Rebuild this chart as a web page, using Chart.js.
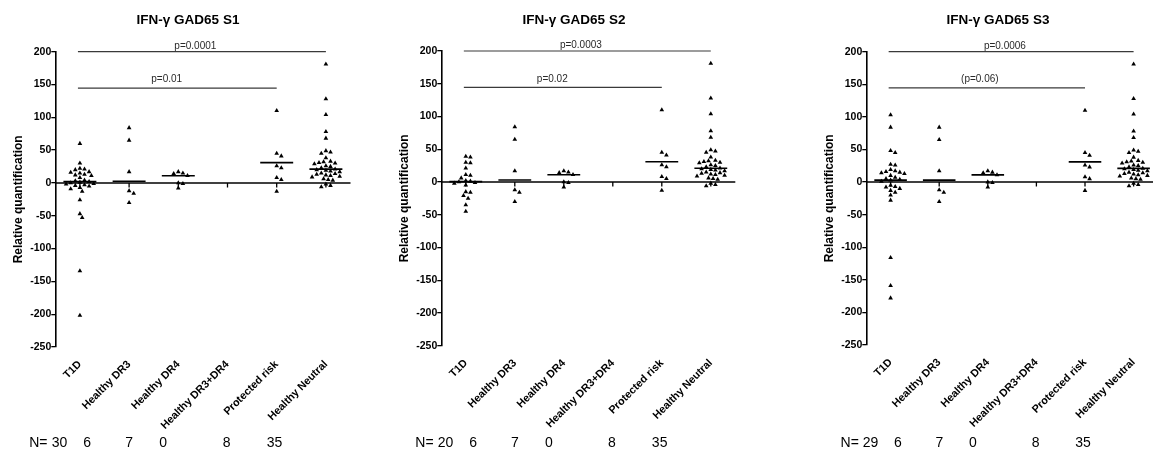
<!DOCTYPE html>
<html>
<head>
<meta charset="utf-8">
<script src="https://cdn.jsdelivr.net/npm/chart.js@4.4.1/dist/chart.umd.min.js"></script>
<style>
  html, body { margin: 0; padding: 0; background: #fff; }
  #wrap { position: relative; width: 1153px; height: 453px; overflow: hidden; background: #fff; }
  #wrap canvas { position: absolute; top: 0; }
</style>
</head>
<body>
<div id="wrap">
  <canvas id="s1"></canvas>
  <canvas id="s2"></canvas>
  <canvas id="s3"></canvas>
</div>
<script>
// ---- data ----
const categories = ['T1D', 'Healthy DR3', 'Healthy DR4', 'Healthy DR3+DR4', 'Protected risk', 'Healthy Neutral'];

const t1dS1 = [60, 30, 22, 21, 20, 17, 16, 15, 13, 12, 11, 8, 4, 3, 2, 1, 0, -1, -2, -3, -4, -5, -7, -9, -13, -26, -47, -53, -134, -202];
const t1dS2 = [39, 38, 30, 29, 21, 11, 10, 6, 2, 1, 0, -1, -2, -5, -15, -16, -21, -25, -35, -45];
const t1dS3 = [103, 84, 48, 45, 27, 26, 19, 17, 16, 15, 14, 13, 10, 7, 5, 4, 3, 1, -5, -7, -8, -10, -13, -16, -20, -28, -116, -159, -178];

const healthyDR3 = [84, 65, 17, -12, -16, -30];
const healthyDR4 = [17, 15, 14, 11, 0, -1, -8];
const healthyDR3DR4 = [];
const protectedRisk = [110, 45, 41, 26, 23, 8, 5, -13];
const healthyNeutral = [181, 128, 104, 78, 68, 49, 47, 45, 38, 33, 32, 31, 30, 29, 26, 25, 23, 21, 20, 19, 18, 17, 15, 14, 13, 12, 11, 10, 9, 6, 5, 4, -2, -4, -6];

// group centre lines
const centreS1 = [2, 2.5, 11, null, 31, 21];
const centreS2 = [0.5, 3, 11, null, 31, 21];
const centreS3 = [3, 3, 11, null, 31, 21];

const countsS1 = [30, 6, 7, 0, 8, 35];
const countsS2 = [20, 6, 7, 0, 8, 35];
const countsS3 = [29, 6, 7, 0, 8, 35];

const pLabelsS1 = ['p=0.0001', 'p=0.01'];
const pLabelsS2 = ['p=0.0003', 'p=0.02'];
const pLabelsS3 = ['p=0.0006', '(p=0.06)'];

const yTickValues = [200, 150, 100, 50, 0, -50, -100, -150, -200, -250];
const titles = ['IFN-\u03b3 GAD65 S1', 'IFN-\u03b3 GAD65 S2', 'IFN-\u03b3 GAD65 S3'];

// ---- layout ----
const FONT = "'Liberation Sans', Arial, Helvetica, sans-serif";
Chart.defaults.font.family = FONT;
Chart.defaults.color = '#000';

const Y_AXIS_W = 55.3;
const panels = [
  { id: 's1', left: 0,   width: 376, catPx: 49.2, top: 51.7, bottom: 347,   t1d: t1dS1, centre: centreS1, counts: countsS1, p: pLabelsS1, title: titles[0] },
  { id: 's2', left: 386, width: 376, catPx: 49.0, top: 51.0, bottom: 345.7, t1d: t1dS2, centre: centreS2, counts: countsS2, p: pLabelsS2, title: titles[1] },
  { id: 's3', left: 811, width: 374, catPx: 48.6, top: 51.7, bottom: 345,   t1d: t1dS3, centre: centreS3, counts: countsS3, p: pLabelsS3, title: titles[2] }
];

// comparison bars: from / to category, height in data units, text anchor and lift in px
const bars = [
  { from: -0.04, to: 5, y: 200,   textAt: 1.92, lift: 2.9 },
  { from: -0.04, to: 4, y: 144.5, textAt: 1.45, lift: 5.7 }
];
// left edges of the "N=" row, in category units
const countLabelAt = { head: -1.03, cols: [-0.573, 0.069, 0.923, 1.614, 2.902, 3.797] };

// spread points of one column sideways so the triangles do not overlap
function swarmOffsets(values, pxPerUnit, catPx) {
  const W = 4.6, H = 4.2, STEP = 2.3;
  const order = values.map((_, i) => i).sort((a, b) => values[b] - values[a]);
  const placed = [];
  const out = new Array(values.length).fill(0);
  for (const i of order) {
    const yp = values[i] * pxPerUnit;
    for (let k = 0; k < 400; k++) {
      const dx = Math.ceil(k / 2) * (k % 2 ? 1 : -1) * STEP;
      const hit = placed.some(p => ((p.x - dx) / W) ** 2 + ((p.y - yp) / H) ** 2 < 1);
      if (!hit) { placed.push({ x: dx, y: yp }); out[i] = dx / catPx; break; }
    }
  }
  return out;
}

const decorations = {
  id: 'decorations',
  beforeDatasetsDraw(chart) {
    const { ctx, scales: { x, y } } = chart;
    const y0 = y.getPixelForValue(0);
    ctx.save();
    ctx.strokeStyle = '#000';
    ctx.lineWidth = 1.5;
    ctx.beginPath();
    ctx.moveTo(x.getPixelForValue(-0.5), y0);
    ctx.lineTo(x.getPixelForValue(categories.length - 0.5), y0);
    ctx.stroke();
    ctx.lineWidth = 1.3;
    ctx.beginPath();
    categories.forEach((_, i) => {
      const px = x.getPixelForValue(i);
      ctx.moveTo(px, y0);
      ctx.lineTo(px, y0 + 4.5);
    });
    ctx.stroke();
    ctx.restore();
  },
  afterDraw(chart, args, opts) {
    const { ctx, scales: { x, y } } = chart;
    ctx.save();
    // comparison bars with their p values
    bars.forEach((b, i) => {
      const py = y.getPixelForValue(b.y);
      ctx.strokeStyle = '#3a3a3a';
      ctx.lineWidth = 1.2;
      ctx.beginPath();
      ctx.moveTo(x.getPixelForValue(b.from), py);
      ctx.lineTo(x.getPixelForValue(b.to), py);
      ctx.stroke();
      ctx.fillStyle = '#2a2a2a';
      ctx.font = '10px ' + FONT;
      ctx.textAlign = 'left';
      ctx.textBaseline = 'alphabetic';
      ctx.fillText(opts.p[i], x.getPixelForValue(b.textAt), py - b.lift);
    });
    // group sizes
    ctx.fillStyle = '#000';
    ctx.font = '14px ' + FONT;
    ctx.textAlign = 'left';
    ctx.textBaseline = 'middle';
    const rowY = 443.3;
    ctx.fillText('N=', x.getPixelForValue(countLabelAt.head), rowY);
    opts.counts.forEach((n, i) => {
      ctx.fillText(String(n), x.getPixelForValue(countLabelAt.cols[i]), rowY);
    });
    ctx.restore();
  }
};

panels.forEach(p => {
  const canvas = document.getElementById(p.id);
  canvas.width = p.width;
  canvas.height = 453;
  canvas.style.left = p.left + 'px';

  const pxPerUnit = (p.bottom - p.top) / 450;
  const groups = [p.t1d, healthyDR3, healthyDR4, healthyDR3DR4, protectedRisk, healthyNeutral];
  const datasets = [];
  groups.forEach((vals, gi) => {
    const off = swarmOffsets(vals, pxPerUnit, p.catPx);
    datasets.push({
      label: categories[gi],
      data: vals.map((v, k) => ({ x: gi + off[k], y: v })),
      showLine: false,
      pointStyle: 'triangle',
      pointRadius: 2.7,
      pointBackgroundColor: '#000',
      pointBorderWidth: 0,
      borderWidth: 0
    });
  });
  p.centre.forEach((m, gi) => {
    if (m === null) return;
    datasets.push({
      label: categories[gi] + ' centre',
      data: [{ x: gi - 0.335, y: m }, { x: gi + 0.335, y: m }],
      showLine: true,
      borderColor: '#000',
      borderWidth: 1.6,
      pointRadius: 0
    });
  });

  const titleSize = 13.5, titleLH = titleSize * 1.2, titlePadTop = 12.6;

  new Chart(canvas, {
    type: 'scatter',
    data: { datasets },
    plugins: [decorations],
    options: {
      responsive: false,
      animation: false,
      events: [],
      layout: { padding: 0, autoPadding: false },
      plugins: {
        legend: { display: false },
        tooltip: { enabled: false },
        title: {
          display: true,
          text: p.title,
          color: '#000',
          font: { size: titleSize, weight: 'bold', family: FONT },
          padding: { top: titlePadTop, bottom: p.top - titlePadTop - titleLH }
        },
        decorations: { p: p.p, counts: p.counts }
      },
      scales: {
        x: {
          type: 'linear',
          min: -0.5,
          max: -0.5 + (p.width - Y_AXIS_W) / p.catPx,
          afterBuildTicks: s => { s.ticks = categories.map((_, i) => ({ value: i })); },
          afterFit: s => { s.height = 453 - p.bottom; },
          grid: { display: false, drawTicks: false },
          border: { display: false },
          ticks: {
            autoSkip: false,
            minRotation: 45,
            maxRotation: 45,
            padding: 11,
            color: '#000',
            font: { size: 10.8, weight: 'bold', family: FONT },
            callback: v => categories[v] ?? ''
          }
        },
        y: {
          type: 'linear',
          min: -250,
          max: 200,
          afterBuildTicks: s => { s.ticks = yTickValues.map(v => ({ value: v })); },
          afterFit: s => { s.width = Y_AXIS_W; },
          grid: { drawOnChartArea: false, drawTicks: true, tickLength: 4, color: '#000', lineWidth: 1.3 },
          border: { display: true, color: '#000', width: 1.6 },
          ticks: {
            padding: 0,
            color: '#000',
            font: { size: 10.5, weight: 'bold', family: FONT }
          },
          title: {
            display: true,
            text: 'Relative quantification',
            color: '#000',
            font: { size: 12, weight: 'bold', family: FONT },
            padding: { top: 11, bottom: 0 }
          }
        }
      }
    }
  });
});
</script>
</body>
</html>
